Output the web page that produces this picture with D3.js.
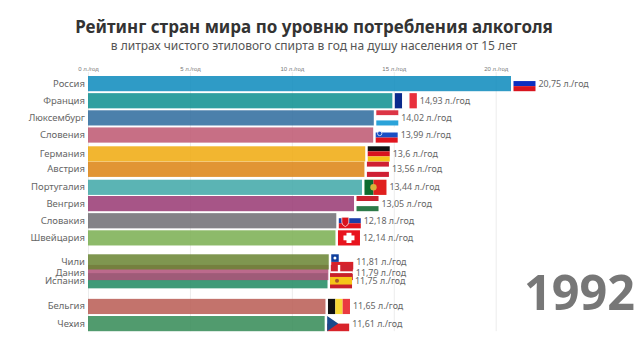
<!DOCTYPE html>
<html>
<head>
<meta charset="utf-8">
<script src="https://cdn.jsdelivr.net/npm/d3@7"></script>
<style>
    html, body { margin: 0; padding: 0; background: #fff; }
    svg { display: block; font-family: "Noto Sans", "Open Sans", sans-serif; }
    .domain { display: none; }
</style>
</head>
<body>
<svg width="640" height="360"></svg>
<script>
const countries = ["Россия", "Франция", "Люксембург", "Словения", "Германия", "Австрия", "Португалия", "Венгрия",
    "Словакия", "Швейцария", "Чили", "Дания", "Испания", "Бельгия", "Чехия"];
const liters = [20.75, 14.93, 14.02, 13.99, 13.6, 13.56, 13.44, 13.05, 12.18, 12.14, 11.81, 11.79, 11.75, 11.65, 11.61];
// ranks are fractional, the frame is caught in the middle of a swap
const ranks = [0, 1, 2, 3, 4.1, 5, 6.05, 7, 8, 9, 10.4, 11.02, 11.5, 13, 14];
const barColors = ["#0b8abc", "#0b8e8f", "#2b6a9c", "#bd5670", "#f0a90c", "#dc8210", "#3ea7a7", "#983772",
    "#6f6c72", "#79ae50", "#698431", "#b05078", "#1f8860", "#b95a52", "#338a55"];
const flagKeys = ["ru", "fr", "lu", "si", "de", "at", "pt", "hu", "sk", "ch", "cl", "dk", "es", "be", "cz"];
const axisTicks = [0, 5, 10, 15, 20];
const year = "1992";

const svg = d3.select("svg");

const x = d3.scaleLinear().domain([0, 20]).range([88, 495.7]);
const y = d3.scaleLinear().domain([0, 14]).range([76, 316]);
const barHeight = 15.2;
const flagWidth = 22;

// Title
svg.append("text")
    .attr("x", 314).attr("y", 32.5)
    .attr("text-anchor", "middle")
    .attr("font-size", 17).attr("font-weight", 700).attr("fill", "#333")
    .text("Рейтинг стран мира по уровню потребления алкоголя");
svg.append("text")
    .attr("x", 314).attr("y", 50)
    .attr("text-anchor", "middle")
    .attr("font-size", 12).attr("fill", "#555")
    .text("в литрах чистого этилового спирта в год на душу населения от 15 лет");

// Axis with gridlines
const axis = d3.axisTop(x)
    .tickValues(axisTicks)
    .tickSize(-(y(14) + barHeight - 72))
    .tickPadding(1)
    .tickFormat(function (d) {
        return d + " л./год";
    });
const axisGroup = svg.append("g").attr("transform", "translate(0,72)").call(axis);
axisGroup.selectAll("line").attr("stroke", "#ececec");
axisGroup.selectAll("text").attr("font-size", 6).attr("fill", "#777");

// Flag painters, each one works in a 22x15 box
function stripes(g, colors, vertical) {
    colors.forEach(function (c, i) {
        if (vertical) {
            g.append("rect").attr("x", i * flagWidth / colors.length).attr("width", flagWidth / colors.length).attr("height", barHeight).attr("fill", c);
        } else {
            g.append("rect").attr("y", i * barHeight / colors.length).attr("width", flagWidth).attr("height", barHeight / colors.length).attr("fill", c);
        }
    });
}

const flags = {
    ru: function (g) { stripes(g, ["#fff", "#0b2fc0", "#d8141e"]); },
    fr: function (g) { stripes(g, ["#0a2a8c", "#fff", "#e8303c"], true); },
    lu: function (g) { stripes(g, ["#dc3545", "#fff", "#2ba3d9"]); },
    si: function (g) {
        stripes(g, ["#fff", "#1a4fc4", "#e0141e"]);
        g.append("circle").attr("cx", 4).attr("cy", 6).attr("r", 2.2).attr("fill", "#1a4fc4").attr("stroke", "#fff").attr("stroke-width", 0.7);
    },
    de: function (g) { stripes(g, ["#111", "#d8141e", "#f5c518"]); },
    at: function (g) { stripes(g, ["#cf1f33", "#fff", "#cf1f33"]); },
    pt: function (g) {
        g.append("rect").attr("width", 9).attr("height", barHeight).attr("fill", "#0d6b2e");
        g.append("rect").attr("x", 9).attr("width", 13).attr("height", barHeight).attr("fill", "#e0201e");
        g.append("circle").attr("cx", 9).attr("cy", 7.6).attr("r", 3.2).attr("fill", "#d9b13a");
    },
    hu: function (g) { stripes(g, ["#c8202f", "#fff", "#2c7a48"]); },
    sk: function (g) {
        stripes(g, ["#fff", "#1c3fa8", "#e0141e"]);
        g.append("path").attr("d", "M3,4H10V9Q10,12 6.5,13.5Q3,12 3,9Z").attr("fill", "#d8141e").attr("stroke", "#fff").attr("stroke-width", 0.7);
    },
    ch: function (g) {
        g.append("rect").attr("width", flagWidth).attr("height", barHeight).attr("fill", "#e8141e");
        g.append("rect").attr("x", 8.5).attr("y", 2.5).attr("width", 5).attr("height", 10.2).attr("fill", "#fff");
        g.append("rect").attr("x", 5.5).attr("y", 5.2).attr("width", 11).attr("height", 4.8).attr("fill", "#fff");
    },
    cl: function (g) {
        stripes(g, ["#fff", "#d8232a"]);
        g.append("rect").attr("width", 7.5).attr("height", barHeight / 2).attr("fill", "#0f3f9c");
        g.append("circle").attr("cx", 3.7).attr("cy", 3.8).attr("r", 1.5).attr("fill", "#fff");
    },
    dk: function (g) {
        g.append("rect").attr("width", flagWidth).attr("height", barHeight).attr("fill", "#cf2430");
        g.append("rect").attr("x", 7).attr("width", 2.4).attr("height", barHeight).attr("fill", "#fff");
        g.append("rect").attr("y", 6.4).attr("width", flagWidth).attr("height", 2.4).attr("fill", "#fff");
    },
    es: function (g) {
        g.append("rect").attr("width", flagWidth).attr("height", barHeight).attr("fill", "#c8202a");
        g.append("rect").attr("y", 3.8).attr("width", flagWidth).attr("height", 7.6).attr("fill", "#f5c518");
        g.append("circle").attr("cx", 7).attr("cy", 7.6).attr("r", 2).attr("fill", "#a8552a");
    },
    be: function (g) { stripes(g, ["#111", "#f7d835", "#ea3a40"], true); },
    cz: function (g) {
        stripes(g, ["#fff", "#d8232a"]);
        g.append("path").attr("d", "M0,0L11," + barHeight / 2 + "L0," + barHeight + "Z").attr("fill", "#1b4a8c");
    }
};

const rows = d3.range(countries.length);

// Bars go bottom rank first, the higher rank sits on top where they overlap
svg.append("g").selectAll("rect")
    .data(rows.slice().reverse())
    .join("rect")
    .attr("x", x(0))
    .attr("y", function (i) { return y(ranks[i]); })
    .attr("width", function (i) { return x(liters[i]) - x(0); })
    .attr("height", barHeight)
    .attr("fill", function (i) { return barColors[i]; })
    .attr("fill-opacity", 0.85);

svg.append("g").selectAll("text")
    .data(rows)
    .join("text")
    .attr("x", 85)
    .attr("y", function (i) { return y(ranks[i]) + barHeight / 2 + 3; })
    .attr("text-anchor", "end")
    .attr("font-size", 9.5)
    .attr("fill", "#666")
    .text(function (i) { return countries[i]; });

svg.append("g").selectAll("g")
    .data(rows)
    .join("g")
    .attr("transform", function (i) {
        return "translate(" + (x(liters[i]) + 2.5) + "," + y(ranks[i]) + ")";
    })
    .each(function (i) {
        flags[flagKeys[i]](d3.select(this));
    });

svg.append("g").selectAll("text")
    .data(rows)
    .join("text")
    .attr("x", function (i) { return x(liters[i]) + 27.5; })
    .attr("y", function (i) { return y(ranks[i]) + barHeight / 2 + 3; })
    .attr("font-size", 8.9)
    .attr("fill", "#666")
    .text(function (i) { return String(liters[i]).replace(".", ",") + " л./год"; });

// Year
svg.append("text")
    .attr("x", 635).attr("y", 310)
    .attr("text-anchor", "end")
    .attr("font-size", 48.5).attr("font-weight", 700).attr("fill", "#777")
    .text(year);
</script>
</body>
</html>
